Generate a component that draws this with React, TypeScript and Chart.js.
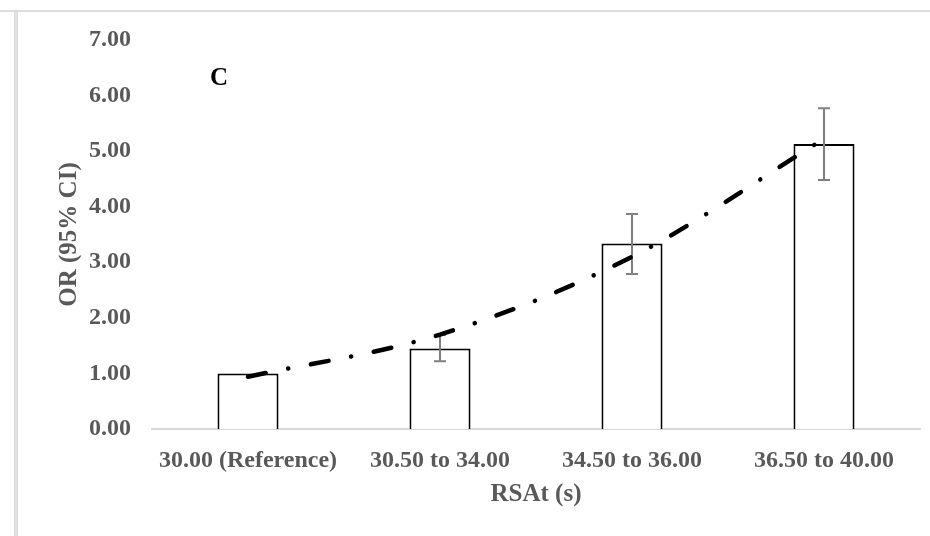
import React, { useEffect, useRef } from "react";
import { Chart, registerables } from "chart.js";

Chart.register(...registerables);

const categories = ["30.00 (Reference)", "30.50 to 34.00", "34.50 to 36.00", "36.50 to 40.00"];
const orValues = [1.0, 1.45, 3.34, 5.13];
const ciLower: (number | null)[] = [null, 1.22, 2.79, 4.48];
const ciUpper: (number | null)[] = [null, 1.69, 3.87, 5.77];
const trendValues = [0.94, 1.7, 3.1, 5.22];
const yTitle = "OR (95% CI)";
const xTitle = "RSAt (s)";
const panelLabel = "C";

const FONT = "'Liberation Serif', 'Times New Roman', serif";
const GRAY = "#595959";

const framePlugin = {
  id: "frame",
  beforeDraw(chart: any) {
    const ctx = chart.ctx;
    ctx.save();
    ctx.fillStyle = "#dcdcdc";
    ctx.fillRect(0, 10, chart.width, 2);
    ctx.fillRect(14, 10, 4, chart.height - 10);
    ctx.fillStyle = "#ececec";
    ctx.fillRect(15.5, 12, 1, chart.height - 12);
    ctx.restore();
  },
  afterDraw(chart: any) {
    const ctx = chart.ctx;
    ctx.save();
    ctx.fillStyle = "#000000";
    ctx.font = `bold 25px ${FONT}`;
    ctx.textAlign = "left";
    ctx.textBaseline = "middle";
    ctx.fillText(panelLabel, 210, 79);
    ctx.restore();
  },
};

const errorBarPlugin = {
  id: "errorBars",
  afterDatasetDraw(chart: any, args: any) {
    if (args.index !== 0) return;
    const ctx = chart.ctx;
    const meta = chart.getDatasetMeta(0);
    const y = chart.scales.y;
    ctx.save();
    ctx.strokeStyle = "#7f7f7f";
    ctx.lineWidth = 2;
    meta.data.forEach((bar: any, i: number) => {
      const lo = ciLower[i];
      const hi = ciUpper[i];
      if (lo == null || hi == null) return;
      const x = bar.x;
      const y1 = y.getPixelForValue(lo);
      const y2 = y.getPixelForValue(hi);
      ctx.beginPath();
      ctx.moveTo(x, y1);
      ctx.lineTo(x, y2);
      ctx.moveTo(x - 6, y1);
      ctx.lineTo(x + 6, y1);
      ctx.moveTo(x - 6, y2);
      ctx.lineTo(x + 6, y2);
      ctx.stroke();
    });
    ctx.restore();
  },
};

export default function App() {
  const ref = useRef<HTMLCanvasElement>(null);
  useEffect(() => {
    if (!ref.current) return;
    const chart = new Chart(ref.current, {
      type: "bar",
      data: {
        labels: categories,
        datasets: [
          {
            type: "bar",
            data: orValues,
            backgroundColor: "#ffffff",
            borderColor: "#000000",
            borderWidth: 2,
            barPercentage: 0.318,
            categoryPercentage: 1,
            order: 1,
          },
          {
            type: "line",
            data: trendValues,
            borderColor: "#000000",
            borderWidth: 4.5,
            borderDash: [18, 23, 0.1, 23],
            borderCapStyle: "round",
            pointRadius: 0,
            cubicInterpolationMode: "monotone",
            fill: false,
            order: 0,
          } as any,
        ],
      },
      options: {
        responsive: false,
        animation: false,
        layout: { padding: { left: 0, right: 10, top: 40, bottom: 0 } },
        plugins: { legend: { display: false }, tooltip: { enabled: false } },
        scales: {
          x: {
            grid: { display: false, drawTicks: false },
            border: { display: true, color: "#d9d9d9", width: 2 },
            ticks: { font: { family: FONT, size: 24, weight: "bold" }, color: GRAY, padding: 17, maxRotation: 0, autoSkip: false },
            title: {
              display: true,
              text: xTitle,
              font: { family: FONT, size: 25, weight: "bold" },
              color: GRAY,
              padding: { top: 0, bottom: 26 },
            },
            afterFit: (s: any) => {
              s.height = 107;
            },
          },
          y: {
            min: 0,
            max: 7,
            grid: { display: false, drawTicks: false },
            border: { display: false },
            ticks: {
              stepSize: 1,
              font: { family: FONT, size: 24, weight: "bold" },
              color: GRAY,
              padding: 21,
              callback: (v: any) => Number(v).toFixed(2),
            },
            title: {
              display: true,
              text: yTitle,
              font: { family: FONT, size: 25, weight: "bold" },
              color: GRAY,
              padding: { top: 55, bottom: 0 },
            },
            afterFit: (s: any) => {
              s.width = 152;
            },
          },
        },
      } as any,
      plugins: [framePlugin, errorBarPlugin],
    });
    return () => chart.destroy();
  }, []);
  return (
    <div style={{ position: "absolute", left: 0, top: 0, width: 930, height: 536, background: "#fff" }}>
      <canvas ref={ref} width={930} height={536} style={{ width: 930, height: 536, display: "block" }} />
    </div>
  );
}
